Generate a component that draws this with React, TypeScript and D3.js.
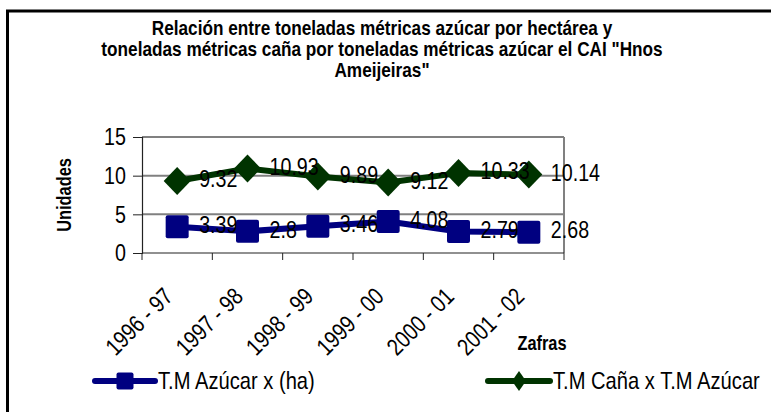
import React, { useEffect, useRef } from 'react';
import * as d3 from 'd3';

const zafras = ['1996 - 97', '1997 - 98', '1998 - 99', '1999 - 00', '2000 - 01', '2001 - 02'];
const azucarHa = [3.39, 2.8, 3.46, 4.08, 2.79, 2.68];
const canaAzucar = [9.32, 10.93, 9.89, 9.12, 10.33, 10.14];
const yTicks = [0, 5, 10, 15];
const titleLines = [
  'Relación entre toneladas métricas azúcar por hectárea y',
  'toneladas métricas caña por toneladas métricas azúcar el CAI "Hnos',
  'Ameijeiras"',
];
const seriesNames = ['T.M Azúcar x (ha)', 'T.M Caña x T.M Azúcar'];

const FONT = '"Liberation Sans", Arial, sans-serif';
const NARROW = 0.82; // squeeze to mimic Arial Narrow
const BLUE = '#000080';
const GREEN = '#003300';

// text drawn condensed around its anchor point
const ntext = (parent: any, x: number, y: number, str: string, o: any = {}) => {
  const t = parent.append('text')
    .attr('transform', `translate(${x},${y}) rotate(${o.rotate || 0}) scale(${o.squeeze || NARROW},1)`)
    .attr('text-anchor', o.anchor || 'start')
    .attr('font-family', FONT)
    .attr('font-size', o.size || 24)
    .attr('font-weight', o.bold ? 'bold' : 'normal')
    .attr('fill', 'black')
    .text(str);
  if (o.central) t.attr('dominant-baseline', 'central');
  return t;
};

const App = () => {
  const svgRef = useRef<SVGSVGElement | null>(null);

  useEffect(() => {
    const svg = d3.select(svgRef.current);
    svg.selectAll('*').remove();

    const x = d3.scaleBand<string>().domain(zafras).range([142, 564]);
    const y = d3.scaleLinear().domain([0, 15]).range([253, 137]);
    const cx = (i: number) => (x(zafras[i]) as number) + x.bandwidth() / 2;

    // outer frame (cut off at right and bottom)
    svg.append('rect')
      .attr('x', 7.5).attr('y', 11)
      .attr('width', 900).attr('height', 500)
      .attr('fill', 'white')
      .attr('stroke', 'black')
      .attr('stroke-width', 3);

    // title
    titleLines.forEach((line, i) => {
      ntext(svg, 382, 35 + i * 21, line, { anchor: 'middle', bold: true, size: 20, squeeze: 0.86 });
    });

    // gridlines + plot border
    const g = svg.append('g');
    g.selectAll('.grid')
      .data([5, 10, 15])
      .enter()
      .append('line')
      .attr('x1', 142).attr('x2', 564)
      .attr('y1', d => y(d)).attr('y2', d => y(d))
      .attr('stroke', '#808080')
      .attr('stroke-width', 2);
    g.append('line')
      .attr('x1', 564).attr('x2', 564)
      .attr('y1', y(15)).attr('y2', y(0))
      .attr('stroke', '#808080')
      .attr('stroke-width', 2);

    // y axis
    const yAxis = g.append('g')
      .attr('transform', 'translate(142,0)')
      .call(d3.axisLeft(y).tickValues(yTicks).tickSize(9).tickFormat(() => ''));
    yAxis.select('.domain').attr('stroke', '#222').attr('stroke-width', 1.2);
    yAxis.selectAll('.tick line').attr('stroke', '#222');
    yTicks.forEach(v => {
      ntext(g, 126, y(v), String(v), { anchor: 'end', central: true, size: 24 });
    });

    // x axis: ticks at band boundaries
    g.append('line')
      .attr('x1', 142).attr('x2', 564)
      .attr('y1', y(0)).attr('y2', y(0))
      .attr('stroke', '#222').attr('stroke-width', 1.2);
    g.selectAll('.xtick')
      .data(zafras.concat(['end']))
      .enter()
      .append('line')
      .attr('x1', (d, i) => 142 + i * x.bandwidth())
      .attr('x2', (d, i) => 142 + i * x.bandwidth())
      .attr('y1', y(0)).attr('y2', y(0) + 7)
      .attr('stroke', '#222');

    zafras.forEach((z, i) => {
      ntext(g, cx(i) - 3, 298, z, { anchor: 'end', rotate: -45, size: 24 });
    });

    // axis titles
    ntext(svg, 71, (y(0) + y(15)) / 2, 'Unidades', { anchor: 'middle', rotate: -90, bold: true, size: 20 });
    ntext(svg, 542, 350, 'Zafras', { anchor: 'middle', bold: true, size: 20 });

    const line = d3.line<number>().x((d, i) => cx(i)).y(d => y(d));

    // series lines
    g.append('path').datum(canaAzucar)
      .attr('d', line).attr('fill', 'none')
      .attr('stroke', GREEN).attr('stroke-width', 6).attr('stroke-linejoin', 'round');
    g.append('path').datum(azucarHa)
      .attr('d', line).attr('fill', 'none')
      .attr('stroke', BLUE).attr('stroke-width', 6).attr('stroke-linejoin', 'round');

    // markers
    g.selectAll('.diamond')
      .data(canaAzucar)
      .enter()
      .append('path')
      .attr('d', (d, i) => `M${cx(i)},${y(d) - 14}L${cx(i) + 13.5},${y(d)}L${cx(i)},${y(d) + 14}L${cx(i) - 13.5},${y(d)}Z`)
      .attr('fill', GREEN);
    g.selectAll('.square')
      .data(azucarHa)
      .enter()
      .append('rect')
      .attr('x', (d, i) => cx(i) - 11.5)
      .attr('y', d => y(d) - 11.5)
      .attr('width', 23).attr('height', 23)
      .attr('rx', 2)
      .attr('fill', BLUE);

    // data labels
    canaAzucar.concat(azucarHa).forEach((v, i) => {
      ntext(g, cx(i % 6) + 22, y(v) - 2, String(v), { central: true, size: 24 });
    });

    // legend
    const legend = [
      { name: seriesNames[0], color: BLUE, x0: 95, x1: 155, tx: 158 },
      { name: seriesNames[1], color: GREEN, x0: 488, x1: 550, tx: 553 },
    ];
    const lg = svg.append('g');
    legend.forEach((l, k) => {
      const ly = 381;
      lg.append('line')
        .attr('x1', l.x0).attr('x2', l.x1)
        .attr('y1', ly).attr('y2', ly)
        .attr('stroke', l.color).attr('stroke-width', 6)
        .attr('stroke-linecap', 'round');
      const mx = (l.x0 + l.x1) / 2;
      if (k === 0) {
        lg.append('rect')
          .attr('x', mx - 8.5).attr('y', ly - 8.5)
          .attr('width', 17).attr('height', 17)
          .attr('rx', 2)
          .attr('fill', l.color);
      } else {
        lg.append('path')
          .attr('d', `M${mx},${ly - 10}L${mx + 7},${ly}L${mx},${ly + 10}L${mx - 7},${ly}Z`)
          .attr('fill', l.color);
      }
      ntext(lg, l.tx, ly, l.name, { central: true, size: 24, squeeze: 0.84 });
    });
  }, []);

  return (
    <svg
      ref={svgRef}
      width={771}
      height={412}
      style={{ position: 'absolute', left: 0, top: 0, background: 'white' }}
    ></svg>
  );
};

export default App;
